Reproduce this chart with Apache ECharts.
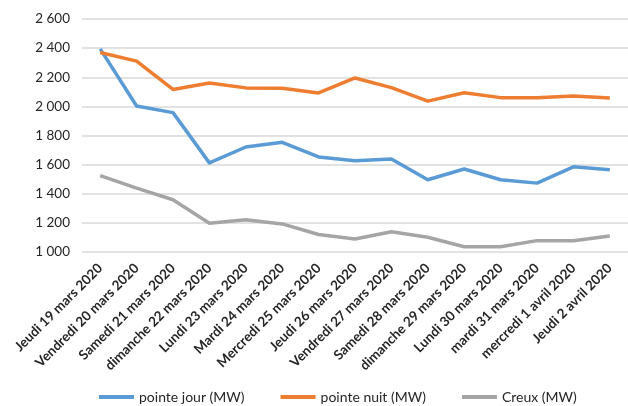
<!DOCTYPE html>
<html>
<head>
<meta charset="utf-8">
<script src="https://cdn.jsdelivr.net/npm/echarts@6/dist/echarts.min.js"></script>
<style>
  html, body { margin: 0; padding: 0; background: #fff; }
  #chart { width: 628px; height: 406px; }
</style>
</head>
<body>
<div id="chart"></div>
<script>
// Daily electricity load, 19 March - 2 April 2020
const days = [
  'Jeudi 19 mars 2020', 'Vendredi 20 mars 2020', 'Samedi 21 mars 2020',
  'dimanche 22 mars 2020', 'Lundi 23 mars 2020', 'Mardi 24 mars 2020',
  'Mercredi 25 mars 2020', 'Jeudi 26 mars 2020', 'Vendredi 27 mars 2020',
  'Samedi 28 mars 2020', 'dimanche 29 mars 2020', 'Lundi 30 mars 2020',
  'mardi 31 mars 2020', 'mercredi 1 avril 2020', 'Jeudi 2 avril 2020'
];
const pointeJour = [2395, 2003, 1957, 1612, 1721, 1753, 1653, 1627, 1639, 1496, 1570, 1496, 1473, 1585, 1565];
const pointeNuit = [2370, 2311, 2116, 2161, 2127, 2125, 2092, 2195, 2129, 2036, 2094, 2060, 2060, 2071, 2057];
const creux      = [1524, 1439, 1359, 1198, 1221, 1193, 1120, 1089, 1139, 1101, 1036, 1036, 1078, 1078, 1110];

const seriesNames = ['pointe jour (MW)', 'pointe nuit (MW)', 'Creux (MW)'];
const colors = ['#5B9BD5', '#ED7D31', '#A5A5A5'];

const font = 'Lato, "Open Sans", sans-serif';
const chart = echarts.init(document.getElementById('chart'), null, { renderer: 'canvas' });

const mkLine = (name, data, color) => ({
  name, type: 'line', data,
  symbol: 'none',
  lineStyle: { color, width: 3.5, join: 'round' },
  itemStyle: { color }
});

chart.setOption({
  animation: false,
  textStyle: { fontFamily: font },
  grid: { left: 82, width: 548, top: 19, height: 233 },
  legend: {
    bottom: -3,
    left: 94,
    icon: 'rect',
    itemWidth: 35,
    itemHeight: 4,
    itemGap: 36,
    textStyle: { fontFamily: font, fontSize: 14, color: '#262626' },
    data: seriesNames
  },
  xAxis: {
    type: 'category',
    data: days,
    boundaryGap: true,
    axisLine: { show: false },
    axisTick: { show: false },
    axisLabel: {
      interval: 0,
      rotate: 45,
      margin: 14,
      fontFamily: font,
      fontSize: 13.5,
      fontWeight: 'bold',
      color: '#262626'
    }
  },
  yAxis: {
    type: 'value',
    min: 1000,
    max: 2600,
    interval: 200,
    axisLine: { show: false },
    axisTick: { show: false },
    splitLine: { lineStyle: { color: '#D9D9D9', width: 1.5 } },
    axisLabel: {
      margin: 12,
      fontFamily: font,
      fontSize: 13.5,
      color: '#262626',
      formatter: v => String(v).replace(/\B(?=(\d{3})+(?!\d))/g, ' ')
    }
  },
  series: [
    mkLine(seriesNames[0], pointeJour, colors[0]),
    mkLine(seriesNames[1], pointeNuit, colors[1]),
    mkLine(seriesNames[2], creux, colors[2])
  ]
});
</script>
</body>
</html>
